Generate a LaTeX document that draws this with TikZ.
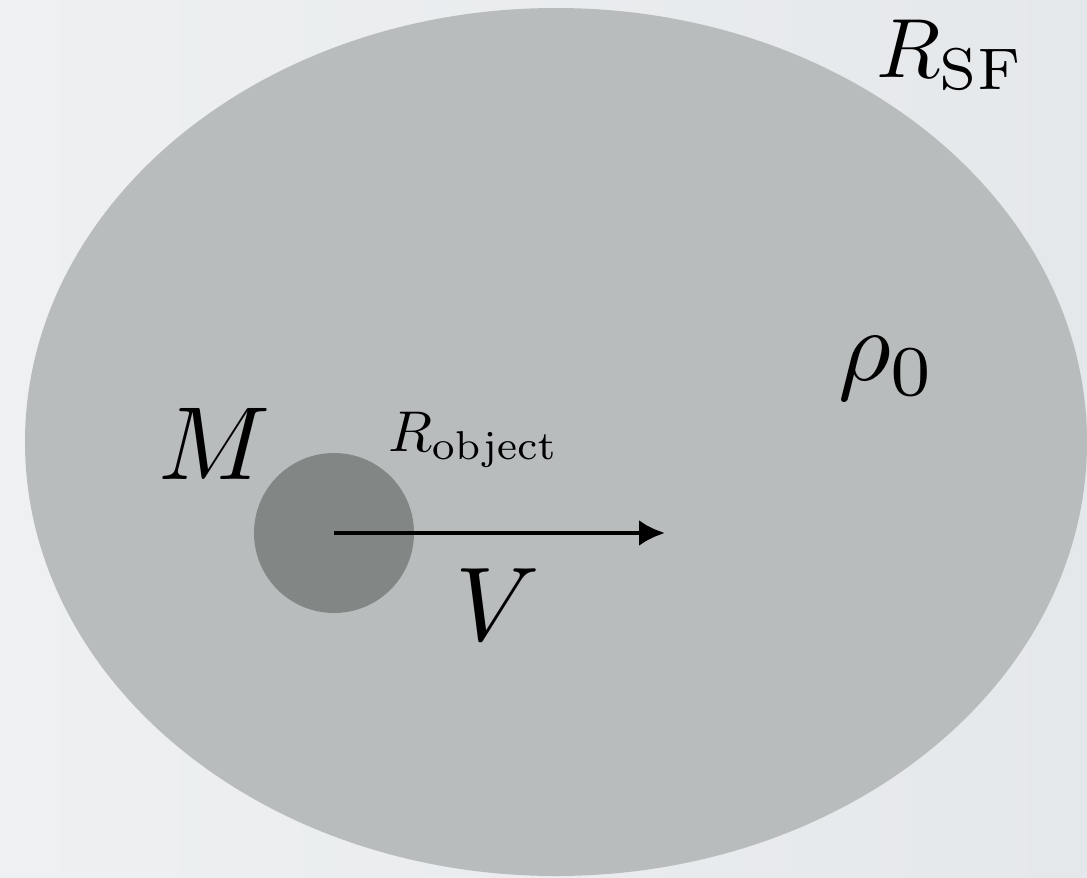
\documentclass[tikz,border=0pt]{standalone}
\usepackage{graphicx}
\usetikzlibrary{arrows.meta}
\definecolor{bgleft}{HTML}{EEF0F1}
\definecolor{bgright}{HTML}{E5E8EB}
\definecolor{sfcol}{HTML}{B8BCBD}
\definecolor{objcol}{HTML}{828785}
\tikzset{
  lbl/.style={inner sep=0pt, anchor=base west, text=black},
}
\begin{document}
\begin{tikzpicture}[x=1pt,y=-1pt]
\shade[left color=bgleft, right color=bgright] (0,0) rectangle (1087,878);
\useasboundingbox (0,0) rectangle (1087,878);
\fill[sfcol] (556,442) ellipse [x radius=531, y radius=434];
\node[circle, fill=objcol, minimum size=160pt, inner sep=0pt] (obj) at (334,533) {};
\coordinate (tip) at (665,533);
\draw[line width=4.5pt, -{Latex[length=26pt, width=26pt]}] (obj.center) -- (tip);
\node[lbl] (rsf) at (876,77) {\scalebox{8.4}{$R_{\mathrm{SF}}$}};
\node[lbl] (rho) at (838,380) {\scalebox{10.2}{$\rho_0$}};
\node[lbl] (M) at (158,479) {\scalebox{10.4}{$M$}};
\node[lbl] (robj) at (388,451) {\scalebox{5.75}{$R_{\mathrm{object}}$}};
\node[lbl] (V) at (455,640) {\scalebox{10.5}{$V$}};
\end{tikzpicture}
\end{document}
